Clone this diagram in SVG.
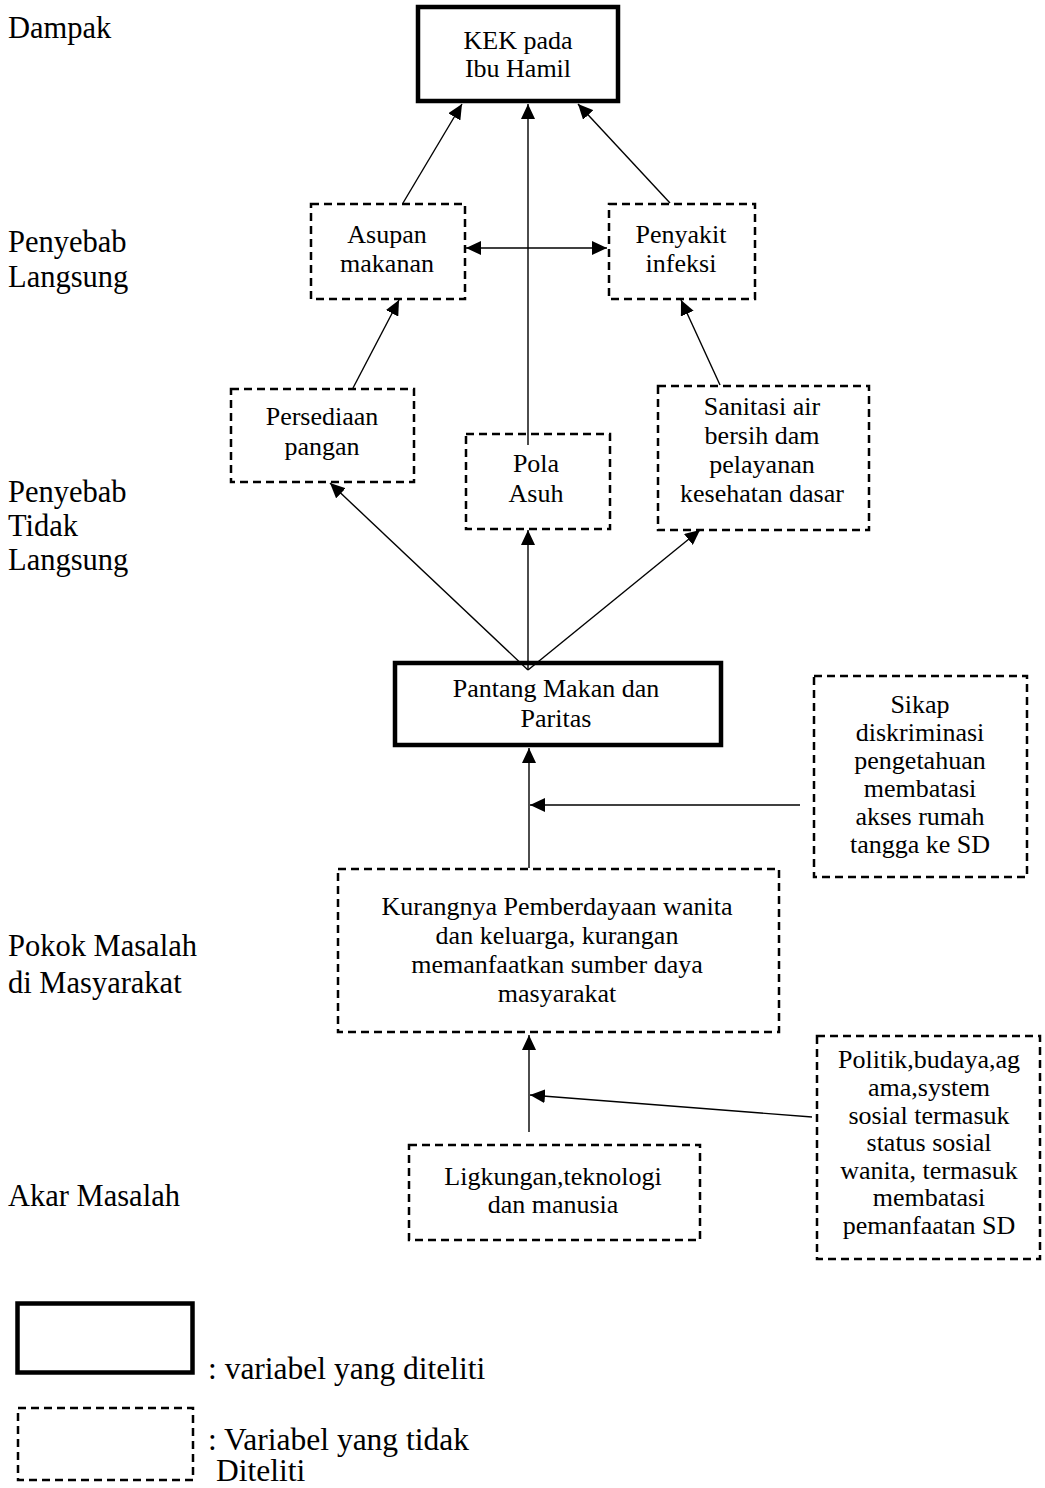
<svg xmlns="http://www.w3.org/2000/svg" width="1045" height="1488" viewBox="0 0 1045 1488">
<style>
text{font-family:"Liberation Serif","Times New Roman",serif;fill:#000}
.lbl{font-size:30.5px}
.leg{font-size:31.5px}
.bt{font-size:26px;text-anchor:middle}
.solid{fill:none;stroke:#000;stroke-width:4.5}
.dash{fill:none;stroke:#000;stroke-width:2.5;stroke-dasharray:8 5}
.con{fill:none;stroke:#000;stroke-width:1.4}
</style>
<defs>
<marker id="ah" markerUnits="userSpaceOnUse" markerWidth="16" markerHeight="14" refX="15" refY="7" orient="auto-start-reverse">
<path d="M0,0 L15,7 L0,14 Z" fill="#000"/>
</marker>
</defs>

<g id="side-labels">
<text class="lbl" x="8" y="38">Dampak</text>
<text class="lbl" x="8" y="252">Penyebab</text>
<text class="lbl" x="8" y="287">Langsung</text>
<text class="lbl" x="8" y="502">Penyebab</text>
<text class="lbl" x="8" y="536">Tidak</text>
<text class="lbl" x="8" y="570">Langsung</text>
<text class="lbl" x="8" y="956">Pokok Masalah</text>
<text class="lbl" x="8" y="993">di Masyarakat</text>
<text class="lbl" x="8" y="1206">Akar Masalah</text>
</g>

<g id="connectors">
<line class="con" x1="403" y1="203" x2="462" y2="104" marker-end="url(#ah)"/>
<line class="con" x1="528" y1="445" x2="528" y2="104" marker-end="url(#ah)"/>
<line class="con" x1="670" y1="203" x2="578" y2="104" marker-end="url(#ah)"/>
<line class="con" x1="466" y1="248" x2="607" y2="248" marker-start="url(#ah)" marker-end="url(#ah)"/>
<line class="con" x1="353" y1="388" x2="399" y2="300" marker-end="url(#ah)"/>
<line class="con" x1="720" y1="385" x2="681" y2="300" marker-end="url(#ah)"/>
<line class="con" x1="528" y1="670" x2="330" y2="483" marker-end="url(#ah)"/>
<line class="con" x1="528" y1="670" x2="528" y2="530" marker-end="url(#ah)"/>
<line class="con" x1="528" y1="670" x2="700" y2="530" marker-end="url(#ah)"/>
<line class="con" x1="529" y1="868" x2="529" y2="748" marker-end="url(#ah)"/>
<line class="con" x1="800" y1="805" x2="530" y2="805" marker-end="url(#ah)"/>
<line class="con" x1="529" y1="1132" x2="529" y2="1035" marker-end="url(#ah)"/>
<line class="con" x1="812" y1="1117" x2="530" y2="1095" marker-end="url(#ah)"/>
</g>

<g id="kek">
<rect class="solid" x="418" y="7" width="200" height="94"/>
<text class="bt" x="518" y="49">KEK pada</text>
<text class="bt" x="518" y="77">Ibu Hamil</text>
</g>

<g id="asupan">
<rect class="dash" x="311" y="204" width="154" height="95"/>
<text class="bt" x="387" y="243">Asupan</text>
<text class="bt" x="387" y="272">makanan</text>
</g>

<g id="penyakit">
<rect class="dash" x="609" y="204" width="146" height="95"/>
<text class="bt" x="681" y="243">Penyakit</text>
<text class="bt" x="681" y="272">infeksi</text>
</g>

<g id="persediaan">
<rect class="dash" x="231" y="389" width="183" height="93"/>
<text class="bt" x="322" y="425">Persediaan</text>
<text class="bt" x="322" y="455">pangan</text>
</g>

<g id="pola-asuh">
<rect class="dash" x="466" y="434" width="144" height="95"/>
<text class="bt" x="536" y="472">Pola</text>
<text class="bt" x="536" y="502">Asuh</text>
</g>

<g id="sanitasi">
<rect class="dash" x="658" y="386" width="211" height="144"/>
<text class="bt" x="762" y="415">Sanitasi air</text>
<text class="bt" x="762" y="444">bersih dam</text>
<text class="bt" x="762" y="473">pelayanan</text>
<text class="bt" x="762" y="502">kesehatan dasar</text>
</g>

<g id="pantang">
<rect class="solid" x="395" y="663" width="326" height="82"/>
<text class="bt" x="556" y="697">Pantang Makan dan</text>
<text class="bt" x="556" y="727">Paritas</text>
</g>

<g id="sikap">
<rect class="dash" x="814" y="676" width="213" height="201"/>
<text class="bt" x="920" y="713">Sikap</text>
<text class="bt" x="920" y="741">diskriminasi</text>
<text class="bt" x="920" y="769">pengetahuan</text>
<text class="bt" x="920" y="797">membatasi</text>
<text class="bt" x="920" y="825">akses rumah</text>
<text class="bt" x="920" y="853">tangga ke SD</text>
</g>

<g id="kurangnya">
<rect class="dash" x="338" y="869" width="441" height="163"/>
<text class="bt" x="557" y="915">Kurangnya Pemberdayaan wanita</text>
<text class="bt" x="557" y="944">dan keluarga, kurangan</text>
<text class="bt" x="557" y="973">memanfaatkan sumber daya</text>
<text class="bt" x="557" y="1002">masyarakat</text>
</g>

<g id="politik">
<rect class="dash" x="817" y="1036" width="223" height="223"/>
<text class="bt" x="929" y="1068">Politik,budaya,ag</text>
<text class="bt" x="929" y="1096">ama,system</text>
<text class="bt" x="929" y="1124">sosial termasuk</text>
<text class="bt" x="929" y="1151">status sosial</text>
<text class="bt" x="929" y="1179">wanita, termasuk</text>
<text class="bt" x="929" y="1206">membatasi</text>
<text class="bt" x="929" y="1234">pemanfaatan SD</text>
</g>

<g id="ligkungan">
<rect class="dash" x="409" y="1145" width="291" height="95"/>
<text class="bt" x="553" y="1185">Ligkungan,teknologi</text>
<text class="bt" x="553" y="1213">dan manusia</text>
</g>

<g id="legend">
<rect class="solid" x="17.5" y="1303.5" width="175" height="69"/>
<text class="leg" x="208" y="1379">: variabel yang diteliti</text>
<rect class="dash" x="18" y="1408" width="175" height="72"/>
<text class="leg"><tspan x="208" y="1450">: Variabel yang tidak</tspan><tspan x="216" y="1481">Diteliti</tspan></text>
</g>
</svg>
